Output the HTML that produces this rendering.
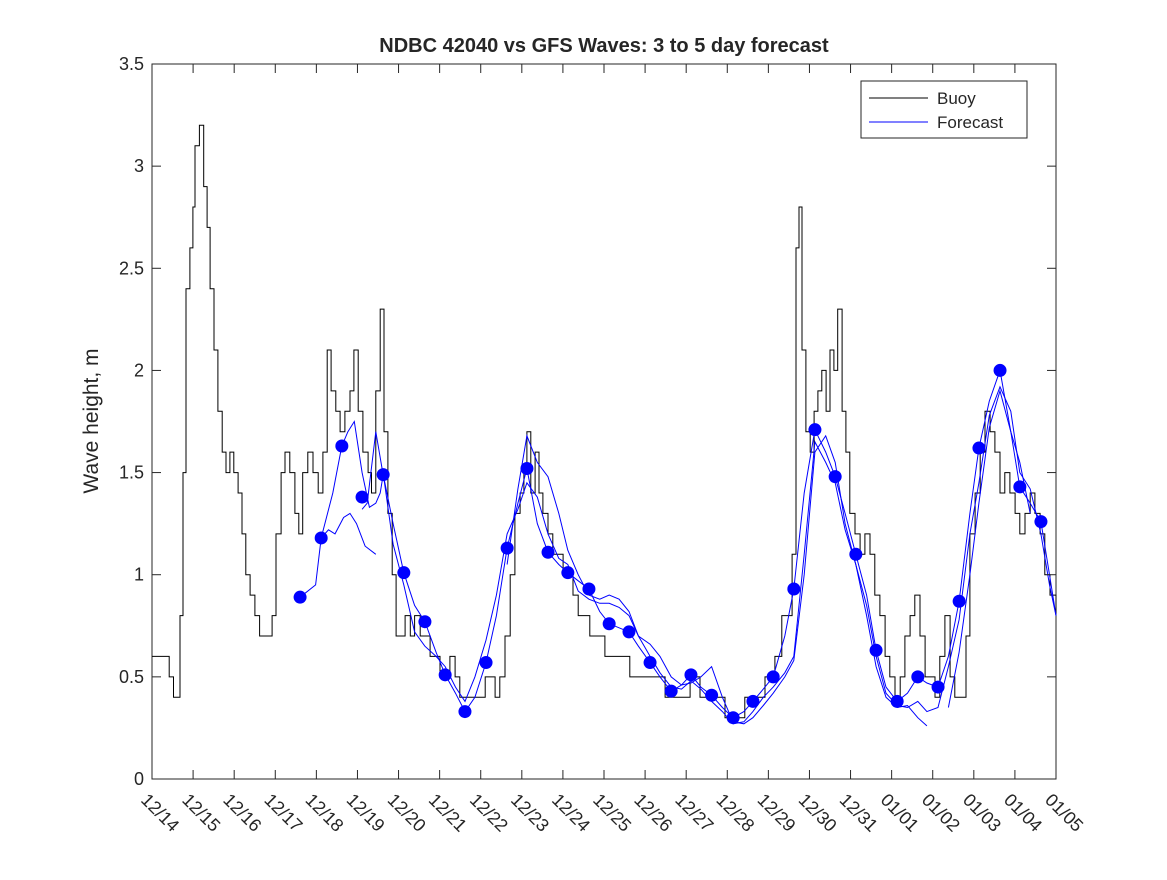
<!DOCTYPE html>
<html><head><meta charset="utf-8"><style>
body{margin:0;background:#fff}
svg text{font-family:"Liberation Sans","DejaVu Sans",sans-serif;fill:#262626}
</style></head><body>
<svg id="chart" width="1167" height="875">
<rect x="0" y="0" width="1167" height="875" fill="#fff"/>
<g id="plot"></g>
<text x="604" y="52" text-anchor="middle" font-size="20" font-weight="bold">NDBC 42040 vs GFS Waves: 3 to 5 day forecast</text>
<text transform="translate(98,421) rotate(-90)" text-anchor="middle" font-size="21">Wave height, m</text>
<g>
<rect x="861" y="81" width="166" height="57" fill="#fff" stroke="#262626" stroke-width="1"/>
<line x1="869" y1="98" x2="928" y2="98" stroke="#000" stroke-width="1"/>
<text x="937" y="104" font-size="17">Buoy</text>
<line x1="869" y1="122" x2="928" y2="122" stroke="#0000ff" stroke-width="1"/>
<text x="937" y="128" font-size="17">Forecast</text>
</g>
</svg>
<script>
const xTickLabels=["12/14","12/15","12/16","12/17","12/18","12/19","12/20","12/21","12/22","12/23","12/24","12/25","12/26","12/27","12/28","12/29","12/30","12/31","01/01","01/02","01/03","01/04","01/05"];
const yTicks=[0,0.5,1,1.5,2,2.5,3,3.5];
const yTickLabels=["0","0.5","1","1.5","2","2.5","3","3.5"];
const buoyDays=[0,0.3,0.4,0.5,0.6,0.65,0.72,0.79,0.88,0.95,1.0,1.1,1.2,1.28,1.35,1.44,1.53,1.63,1.72,1.81,1.9,2.0,2.09,2.18,2.28,2.39,2.5,2.7,2.79,2.88,3.0,3.09,3.2,3.32,3.41,3.5,3.62,3.74,3.86,3.97,4.07,4.16,4.27,4.37,4.48,4.6,4.69,4.79,4.9,5.02,5.1,5.2,5.3,5.39,5.48,5.58,5.67,5.76,5.88,6.0,6.1,6.23,6.34,6.46,6.57,6.69,6.8,6.92,7.04,7.15,7.39,7.62,7.74,7.85,7.97,8.08,8.2,8.32,8.43,8.55,8.64,8.71,8.8,8.9,8.99,9.08,9.2,9.31,9.43,9.55,9.66,9.78,9.9,10.06,10.17,10.41,10.52,10.69,10.87,11.1,11.34,11.57,11.8,11.92,12.26,12.5,12.73,12.96,13.19,13.31,13.54,13.77,14.0,14.24,14.47,14.63,14.77,14.87,14.96,15.03,15.1,15.19,15.29,15.38,15.47,15.56,15.66,15.75,15.84,15.93,16.03,16.12,16.21,16.33,16.45,16.56,16.68,16.79,16.91,17.03,17.14,17.26,17.38,17.49,17.61,17.72,17.84,17.96,18.07,18.19,18.3,18.42,18.54,18.65,18.81,18.91,19.0,19.12,19.24,19.35,19.47,19.58,19.7,19.81,19.93,20.05,20.16,20.28,20.4,20.51,20.63,20.74,20.86,21.0];
const buoyVals=[0.6,0.6,0.5,0.4,0.4,0.8,1.5,2.4,2.6,2.8,3.1,3.2,2.9,2.7,2.4,2.1,1.8,1.6,1.5,1.6,1.5,1.4,1.2,1.0,0.9,0.8,0.7,0.7,0.8,1.2,1.5,1.6,1.5,1.3,1.2,1.5,1.6,1.5,1.4,1.6,2.1,1.9,1.8,1.7,1.8,1.9,2.1,1.8,1.6,1.5,1.4,1.9,2.3,1.7,1.3,1.0,0.7,0.7,0.8,0.7,0.8,0.7,0.7,0.6,0.6,0.5,0.5,0.6,0.5,0.4,0.4,0.4,0.5,0.5,0.4,0.5,0.7,1.0,1.3,1.4,1.5,1.7,1.4,1.6,1.4,1.3,1.2,1.1,1.1,1.0,1.0,0.9,0.8,0.8,0.7,0.7,0.6,0.6,0.6,0.5,0.5,0.5,0.5,0.4,0.4,0.5,0.4,0.4,0.4,0.3,0.3,0.4,0.4,0.5,0.6,0.8,0.8,1.1,2.6,2.8,2.1,1.7,1.6,1.8,1.9,2.0,1.8,2.1,2.0,2.3,1.8,1.6,1.3,1.2,1.1,1.2,1.1,0.9,0.8,0.6,0.5,0.4,0.5,0.7,0.8,0.9,0.7,0.5,0.5,0.4,0.6,0.8,0.5,0.4,0.4,0.7,1.2,1.4,1.6,1.8,1.7,1.6,1.4,1.5,1.4,1.3,1.2,1.3,1.4,1.3,1.2,1.0,0.9,0.8];
const dotDays=[3.44,3.93,4.41,4.88,5.37,5.85,6.34,6.81,7.27,7.76,8.25,8.71,9.2,9.66,10.15,10.62,11.08,11.57,12.06,12.52,13.0,13.5,13.96,14.43,14.91,15.4,15.87,16.35,16.82,17.31,17.79,18.26,18.75,19.21,19.7,20.16,20.65];
const dotVals=[0.89,1.18,1.63,1.38,1.49,1.01,0.77,0.51,0.33,0.57,1.13,1.52,1.11,1.01,0.93,0.76,0.72,0.57,0.43,0.51,0.41,0.30,0.38,0.50,0.93,1.71,1.48,1.10,0.63,0.38,0.50,0.45,0.87,1.62,2.00,1.43,1.26];
const f1Days=[3.44,3.8,3.93,4.1,4.25,4.45,4.6,4.75,4.95,5.2];
const f1Vals=[0.89,0.95,1.18,1.22,1.2,1.28,1.3,1.25,1.14,1.1];
const f2Days=[3.93,4.2,4.41,4.55,4.7,4.88,5.05,5.2,5.3,5.37,5.6,5.85,6.1,6.34,6.6,6.81,7.05,7.27,7.5,7.76,8.0,8.25,8.5,8.71,8.95,9.2,9.45,9.66,9.9,10.15,10.4,10.62,10.85,11.08,11.3,11.57,11.8,12.06,12.3,12.52,12.75,13.0,13.25,13.5,13.75,13.96,14.2,14.43,14.7,14.91,15.15,15.4,15.65,15.87,16.1,16.35,16.6,16.82,17.05,17.31,17.55,17.79,18.0,18.26,18.5,18.75,19.0,19.21,19.45,19.7,19.95,20.16,20.4,20.65,20.85,21.0];
const f2Vals=[1.18,1.4,1.63,1.7,1.75,1.5,1.33,1.35,1.4,1.49,1.25,1.01,0.85,0.77,0.62,0.51,0.42,0.33,0.4,0.57,0.8,1.13,1.35,1.52,1.25,1.11,1.05,1.01,0.97,0.93,0.82,0.76,0.74,0.72,0.65,0.57,0.5,0.43,0.46,0.51,0.45,0.41,0.35,0.30,0.33,0.38,0.44,0.50,0.7,0.93,1.4,1.71,1.6,1.48,1.3,1.10,0.9,0.63,0.45,0.38,0.42,0.50,0.47,0.45,0.6,0.87,1.3,1.62,1.85,2.0,1.7,1.43,1.35,1.26,1.0,0.8];
const f3Days=[4.88,5.0,5.2,5.4,5.6,5.85,6.1,6.34,6.6,6.81,7.05,7.27,7.5,7.76,8.0,8.25,8.5,8.71,8.95,9.2,9.45,9.66,9.9,10.15,10.4,10.62,10.85,11.08,11.3,11.57,11.8,12.06,12.3,12.52,12.75,13.0,13.25,13.5,13.75,13.96,14.2,14.43,14.7,14.91,15.15,15.4,15.65,15.87,16.1,16.35,16.6,16.82,17.05,17.31,17.55,17.79,18.0,18.26,18.5,18.75,19.0,19.21,19.45,19.7,19.95,20.16,20.4,20.65,20.85,21.0];
const f3Vals=[1.32,1.35,1.7,1.45,1.15,0.95,0.72,0.65,0.6,0.55,0.45,0.38,0.5,0.68,0.9,1.2,1.32,1.45,1.38,1.2,1.08,1.05,0.92,0.88,0.86,0.86,0.84,0.8,0.7,0.6,0.52,0.45,0.44,0.48,0.44,0.38,0.33,0.27,0.28,0.33,0.4,0.45,0.52,0.6,1.1,1.65,1.55,1.45,1.22,1.05,0.85,0.6,0.42,0.36,0.35,0.38,0.33,0.35,0.55,0.78,1.2,1.45,1.78,1.92,1.8,1.5,1.42,1.2,0.95,0.8];
const f4Days=[8.25,8.5,8.71,8.95,9.2,9.45,9.66,9.9,10.15,10.4,10.62,10.85,11.08,11.3,11.57,11.8,12.06,12.3,12.52,12.75,13.0,13.25,13.5,13.75,13.96,14.2,14.43,14.7,14.91,15.15,15.4,15.65,15.87,16.1,16.35,16.6,16.82,17.05,17.31,17.55,17.79,18.0,18.26,18.5,18.75,19.0,19.21,19.45,19.7,19.95,20.16,20.4];
const f4Vals=[1.05,1.42,1.68,1.55,1.48,1.3,1.12,1.0,0.9,0.88,0.9,0.88,0.82,0.7,0.66,0.6,0.5,0.46,0.47,0.5,0.55,0.4,0.28,0.27,0.3,0.36,0.42,0.5,0.58,1.0,1.6,1.68,1.55,1.25,1.05,0.8,0.55,0.4,0.35,0.36,0.3,0.26,null,0.35,0.62,1.0,1.35,1.72,1.9,1.7,1.55,1.3];
// data day-units span 21 units across the axis; the axis shows 22 calendar days
const x0=152,x1=1056,y0=779,y1=64,nUnits=21,nTickIntervals=22,yMax=3.5;
const X=d=>x0+(x1-x0)*d/nUnits;
const XT=i=>x0+(x1-x0)*i/nTickIntervals;
const Y=v=>y0-(y0-y1)*v/yMax;
const NS="http://www.w3.org/2000/svg";
const plot=document.getElementById('plot');
function mk(t,a){const e=document.createElementNS(NS,t);for(const k in a)e.setAttribute(k,a[k]);plot.appendChild(e);return e;}
let box=mk('rect',{x:x0,y:y1,width:x1-x0,height:y0-y1,fill:'#fff',stroke:'#262626','stroke-width':1});


function pathFrom(ds,vs,step){let d='',pen=false;for(let i=0;i<ds.length;i++){if(vs[i]==null){pen=false;continue;}const px=X(ds[i]).toFixed(1),py=Y(vs[i]).toFixed(1);if(!pen){d+='M'+px+' '+py;pen=true;}else{if(step)d+='H'+px+'V'+py;else d+='L'+px+' '+py;}}return d;}
let b=mk('path',{d:pathFrom(buoyDays,buoyVals,true),fill:'none',stroke:'#000','stroke-width':1});


[[f1Days,f1Vals],[f2Days,f2Vals],[f3Days,f3Vals],[f4Days,f4Vals]].forEach((s,i)=>{
 let p=mk('path',{d:pathFrom(s[0],s[1],false),fill:'none',stroke:'#0000ff','stroke-width':1});
 
 
});
dotDays.forEach((d,i)=>{
 let c=mk('circle',{cx:X(d),cy:Y(dotVals[i]),r:6.5,fill:'#0000ff'});
 
 
});
xTickLabels.forEach((l,i)=>{
 const x=XT(i);
 mk('line',{x1:x,y1:y0,x2:x,y2:y0-9,stroke:'#262626'});
 mk('line',{x1:x,y1:y1,x2:x,y2:y1+9,stroke:'#262626'});
 let t=mk('text',{transform:`translate(${x-12},${y0+22}) rotate(45)`,'font-size':18});
 t.textContent=l;
 
 
});
yTicks.forEach((v,i)=>{
 const y=Y(v);
 mk('line',{x1:x0,y1:y,x2:x0+9,y2:y,stroke:'#262626'});
 mk('line',{x1:x1,y1:y,x2:x1-9,y2:y,stroke:'#262626'});
 let t=mk('text',{x:x0-8,y:y+6,'text-anchor':'end','font-size':18});
 t.textContent=yTickLabels[i];
 
 
});
</script>
</body></html>
